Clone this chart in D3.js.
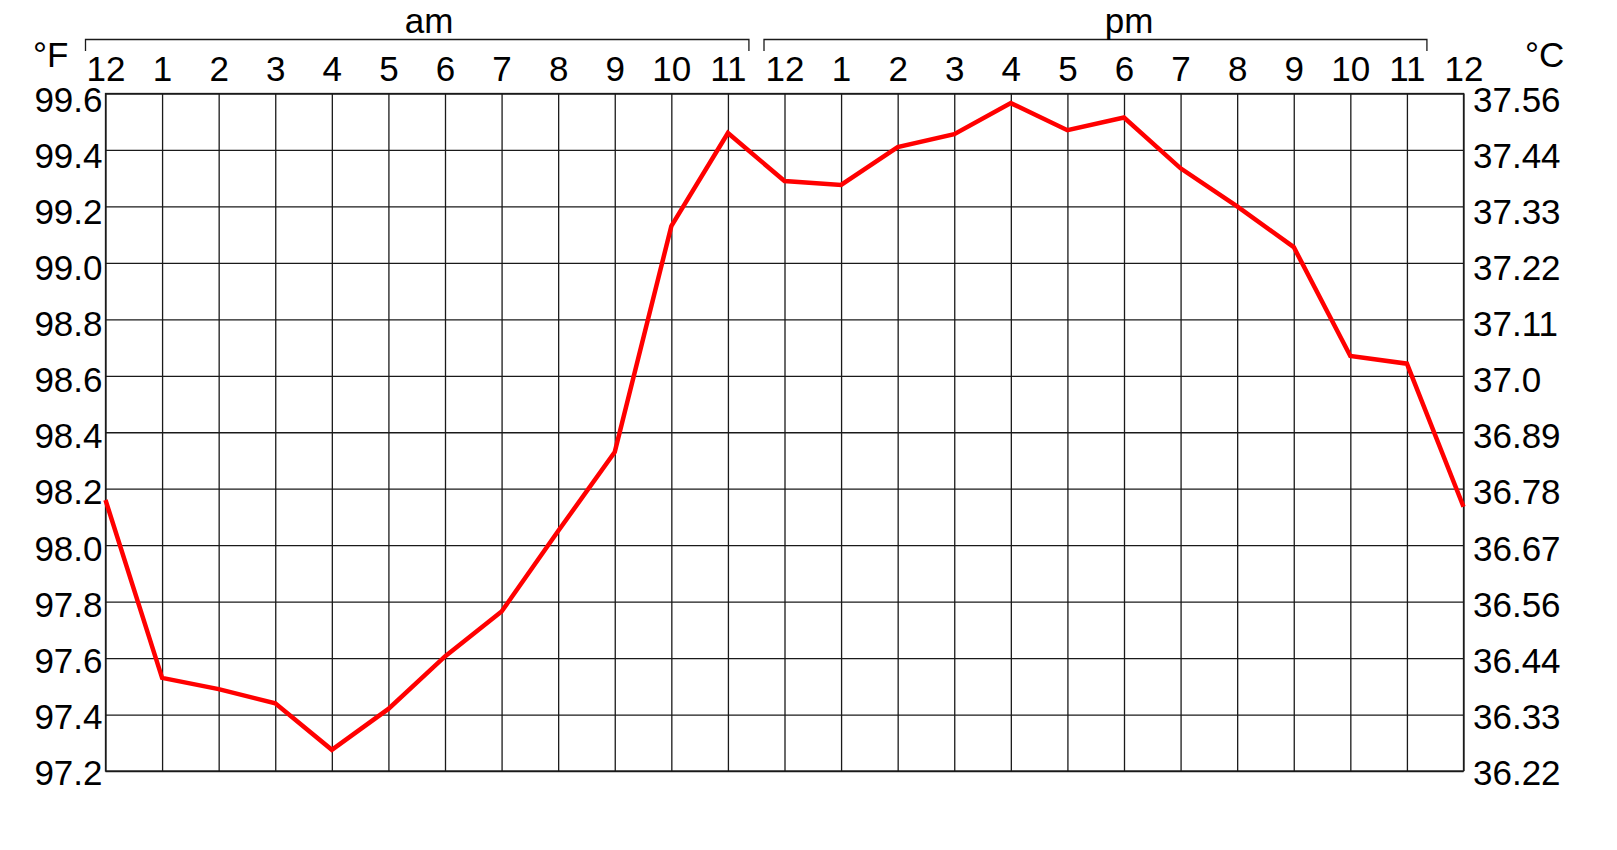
<!DOCTYPE html>
<html>
<head>
<meta charset="utf-8">
<script src="https://cdn.jsdelivr.net/npm/d3@7"></script>
<style>
  html, body { margin: 0; padding: 0; background: #fff; }
  svg { display: block; }
  text { font-family: "Liberation Sans", Arial, sans-serif; fill: #000; }
</style>
</head>
<body>
<svg id="chart" width="1617" height="850"></svg>
<script>
// ---- data ----
const hourLabels = ["12","1","2","3","4","5","6","7","8","9","10","11",
                    "12","1","2","3","4","5","6","7","8","9","10","11","12"];
const tempF = [98.16, 97.53, 97.49, 97.44, 97.275, 97.42, 97.606, 97.765, 98.05, 98.33,
               99.13, 99.46, 99.29, 99.276, 99.41, 99.456, 99.566, 99.47, 99.515, 99.335,
               99.2, 99.056, 98.67, 98.643, 98.136];
const fTicks = [97.2, 97.4, 97.6, 97.8, 98.0, 98.2, 98.4, 98.6, 98.8, 99.0, 99.2, 99.4, 99.6];
const fTickLabels = ["97.2","97.4","97.6","97.8","98.0","98.2","98.4","98.6","98.8","99.0","99.2","99.4","99.6"];
const cTickLabels = ["36.22","36.33","36.44","36.56","36.67","36.78","36.89","37.0","37.11","37.22","37.33","37.44","37.56"];
const periods = ["am", "pm"];

// ---- layout ----
const L = 105.5, R = 1463.5, T = 93.5, B = 771;
const FS = 35;
const svg = d3.select("#chart");

const x = d3.scaleLinear().domain([0, 24]).range([L, R]);
const y = d3.scaleLinear().domain([97.2, 99.6]).range([B, T]);
// tick labels sit slightly lower than their gridlines near the top, as in the original
const yLab = y.copy().range([B + 1, T + 5]);
const hours = d3.range(hourLabels.length);

// grid: vertical
const gx = svg.append("g").attr("transform", `translate(0,${B})`)
  .call(d3.axisBottom(x).tickValues(hours).tickSize(-(B - T)).tickFormat(""));
gx.select(".domain").remove();
gx.selectAll("line").attr("stroke", "#1a1a1a").attr("stroke-width", 1.3);

// grid: horizontal
const gy = svg.append("g").attr("transform", `translate(${L},0)`)
  .call(d3.axisLeft(y).tickValues(fTicks).tickSize(-(R - L)).tickFormat(""));
gy.select(".domain").remove();
gy.selectAll("line").attr("stroke", "#1a1a1a").attr("stroke-width", 1.3);

// frame
svg.append("rect").attr("x", L).attr("y", T).attr("width", R - L).attr("height", B - T)
  .attr("fill", "none").attr("stroke", "#1a1a1a").attr("stroke-width", 1.3);

// left axis labels (°F)
const ay = svg.append("g").attr("transform", `translate(${L},0)`)
  .call(d3.axisLeft(yLab).tickValues(fTicks).tickSize(0).tickPadding(3)
        .tickFormat((d, i) => fTickLabels[i]));
ay.select(".domain").remove();
ay.selectAll("text").attr("font-size", FS).attr("dy", "0.36em")
  .attr("font-family", "Liberation Sans, Arial, sans-serif").attr("fill", "#000");

// right axis labels (°C)
const ar = svg.append("g").attr("transform", `translate(${R},0)`)
  .call(d3.axisRight(yLab).tickValues(fTicks).tickSize(0).tickPadding(9.5)
        .tickFormat((d, i) => cTickLabels[i]));
ar.select(".domain").remove();
ar.selectAll("text").attr("font-size", FS).attr("dy", "0.36em")
  .attr("font-family", "Liberation Sans, Arial, sans-serif").attr("fill", "#000");

// top axis hour labels
const at = svg.append("g").attr("transform", `translate(0,${T})`)
  .call(d3.axisTop(x).tickValues(hours).tickSize(0).tickPadding(13)
        .tickFormat((d, i) => hourLabels[i]));
at.select(".domain").remove();
at.selectAll("text").attr("font-size", FS)
  .attr("font-family", "Liberation Sans, Arial, sans-serif").attr("fill", "#000");

// unit labels
svg.append("text").attr("x", 33).attr("y", 67).attr("font-size", FS).text("°F");
svg.append("text").attr("x", 1525).attr("y", 67).attr("font-size", FS).text("°C");

// am / pm brackets
const by = 39.5, tickDown = 51;
const brackets = [
  { x0: x(0) - 20, x1: x(11) + 21, tx: 429 },
  { x0: x(12) - 20.5, x1: x(23) + 20, tx: 1129 }
];
brackets.forEach((b, i) => {
  svg.append("path")
    .attr("d", `M${b.x0},${tickDown}V${by}H${b.x1}V${tickDown}`)
    .attr("fill", "none").attr("stroke", "#1a1a1a").attr("stroke-width", 1.3);
  svg.append("text").attr("x", b.tx).attr("y", 33).attr("text-anchor", "middle")
    .attr("font-size", FS).text(periods[i]);
});

// temperature line
const line = d3.line().x((d, i) => x(i)).y(d => y(d));
svg.append("path").datum(tempF)
  .attr("d", line)
  .attr("fill", "none").attr("stroke", "#ff0000").attr("stroke-width", 4.5)
  .attr("stroke-linejoin", "miter");
</script>
</body>
</html>
